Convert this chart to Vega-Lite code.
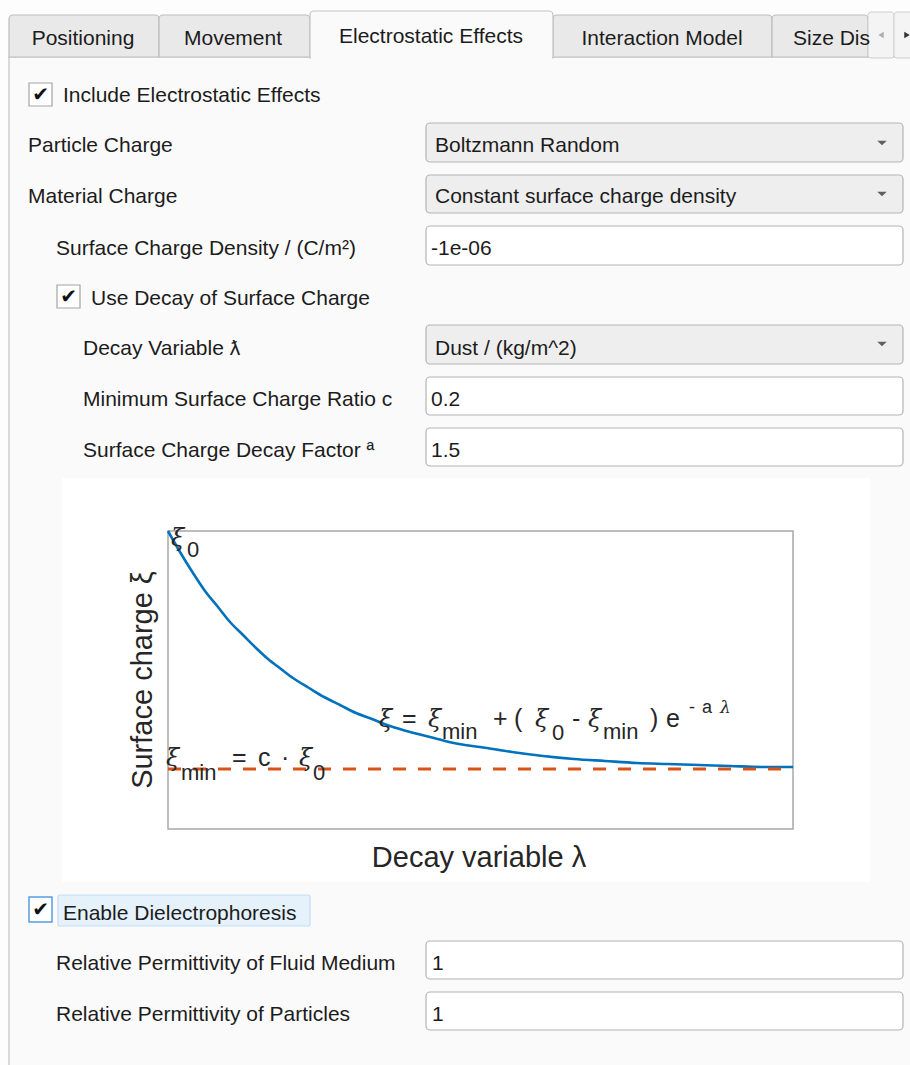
{
  "$schema": "https://vega.github.io/schema/vega-lite/v6.json",
  "width": 910,
  "height": 1065,
  "padding": 0,
  "autosize": {"type": "fit", "contains": "padding"},
  "background": "#fdfdfd",
  "view": {"stroke": null},
  "datasets": {
    "tabs": [{"x": 9, "y": 15, "x2": 159, "y2": 57}, {"x": 159, "y": 15, "x2": 310, "y2": 57}, {"x": 553, "y": 15, "x2": 772, "y2": 57}, {"x": 772, "y": 15, "x2": 868, "y2": 57}],
    "tabbtn": [{"x": 868, "y": 12, "x2": 894, "y2": 58}, {"x": 894, "y": 12, "x2": 915, "y2": 58}],
    "panel": [{"x": 9, "y": 57, "x2": 920, "y2": 1075}],
    "activetab": [{"x": 310, "y": 11, "x2": 553, "y2": 58}],
    "activecover": [{"x": 311, "y": 54, "x2": 552, "y2": 61}],
    "chartbg": [{"x": 62, "y": 478, "x2": 870, "y2": 882}],
    "combos": [{"x": 426, "y": 123, "x2": 903, "y2": 162}, {"x": 426, "y": 175, "x2": 903, "y2": 213}, {"x": 426, "y": 325, "x2": 903, "y2": 364}],
    "fields": [{"x": 426, "y": 226, "x2": 903, "y2": 265}, {"x": 426, "y": 377, "x2": 903, "y2": 415}, {"x": 426, "y": 428, "x2": 903, "y2": 466}, {"x": 426, "y": 941, "x2": 903, "y2": 979}, {"x": 426, "y": 992, "x2": 903, "y2": 1030}],
    "checks": [{"x": 29, "y": 83, "x2": 52, "y2": 106}, {"x": 57, "y": 285, "x2": 80, "y2": 308}],
    "focus": [{"x": 58, "y": 895, "x2": 310, "y2": 926}],
    "bluecheck": [{"x": 29, "y": 897, "x2": 52, "y2": 922}],
    "frame": [{"x": 168, "y": 531, "x2": 793, "y2": 829}],
    "minline": [{"x": 168, "y": 769}, {"x": 793, "y": 769}],
    "curve": [
      {"x": 168, "y": 531}, {"x": 180, "y": 552}, {"x": 193, "y": 573}, {"x": 205, "y": 591}, {"x": 218, "y": 607},
      {"x": 230, "y": 622}, {"x": 243, "y": 635}, {"x": 256, "y": 648}, {"x": 268, "y": 659}, {"x": 281, "y": 669},
      {"x": 293, "y": 678}, {"x": 309, "y": 688}, {"x": 324, "y": 697}, {"x": 340, "y": 705}, {"x": 356, "y": 713},
      {"x": 372, "y": 719}, {"x": 387, "y": 725}, {"x": 403, "y": 730}, {"x": 418, "y": 734}, {"x": 434, "y": 738},
      {"x": 449, "y": 742}, {"x": 465, "y": 745}, {"x": 480, "y": 747}, {"x": 512, "y": 752}, {"x": 543, "y": 756},
      {"x": 574, "y": 759}, {"x": 605, "y": 761}, {"x": 637, "y": 763}, {"x": 668, "y": 764}, {"x": 699, "y": 765},
      {"x": 730, "y": 766}, {"x": 762, "y": 767}, {"x": 793, "y": 767}
    ],
    "uitext": [
      {"x": 63, "y": 102, "t": "Include Electrostatic Effects"},
      {"x": 28, "y": 152, "t": "Particle Charge"},
      {"x": 28, "y": 203, "t": "Material Charge"},
      {"x": 56, "y": 255, "t": "Surface Charge Density / (C/m²)"},
      {"x": 91, "y": 305, "t": "Use Decay of Surface Charge"},
      {"x": 83, "y": 355, "t": "Decay Variable ƛ"},
      {"x": 83, "y": 406, "t": "Minimum Surface Charge Ratio c"},
      {"x": 83, "y": 457, "t": "Surface Charge Decay Factor ª"},
      {"x": 435, "y": 152, "t": "Boltzmann Random"},
      {"x": 435, "y": 203, "t": "Constant surface charge density"},
      {"x": 431, "y": 255, "t": "-1e-06"},
      {"x": 435, "y": 355, "t": "Dust / (kg/m^2)"},
      {"x": 431, "y": 406, "t": "0.2"},
      {"x": 431, "y": 457, "t": "1.5"},
      {"x": 63, "y": 920, "t": "Enable Dielectrophoresis"},
      {"x": 56, "y": 970, "t": "Relative Permittivity of Fluid Medium"},
      {"x": 56, "y": 1021, "t": "Relative Permittivity of Particles"},
      {"x": 432, "y": 970, "t": "1"},
      {"x": 432, "y": 1021, "t": "1"},
      {"x": 793, "y": 45, "t": "Size Dis"}
    ],
    "tabtext": [
      {"x": 83, "y": 45, "t": "Positioning"},
      {"x": 233, "y": 45, "t": "Movement"},
      {"x": 431, "y": 43, "t": "Electrostatic Effects"},
      {"x": 662, "y": 45, "t": "Interaction Model"}
    ],
    "checkmarks": [{"x": 40.5, "y": 95, "t": "✔"}, {"x": 68.5, "y": 297, "t": "✔"}, {"x": 40.5, "y": 910, "t": "✔"}],
    "arrows": [{"x": 882, "y": 143}, {"x": 882, "y": 194}, {"x": 882, "y": 344}],
    "tabarrowl": [{"x": 881, "y": 35}],
    "tabarrowr": [{"x": 907, "y": 35}],
    "greek": [
      {"x": 171, "y": 546, "t": "ξ"},
      {"x": 166, "y": 766, "t": "ξ"}, {"x": 299, "y": 766, "t": "ξ"},
      {"x": 379, "y": 727, "t": "ξ"}, {"x": 428, "y": 727, "t": "ξ"}, {"x": 535, "y": 727, "t": "ξ"}, {"x": 588, "y": 727, "t": "ξ"}
    ],
    "math": [
      {"x": 232, "y": 766, "t": "="}, {"x": 258, "y": 766, "t": "c"}, {"x": 281, "y": 766, "t": "·"},
      {"x": 402, "y": 727, "t": "="}, {"x": 493, "y": 727, "t": "+"},
      {"x": 514, "y": 727, "t": "("}, {"x": 572, "y": 727, "t": "-"},
      {"x": 650, "y": 727, "t": ")"}, {"x": 666, "y": 727, "t": "e"}
    ],
    "mathsub": [
      {"x": 187, "y": 557, "t": "0"},
      {"x": 181, "y": 780, "t": "min"}, {"x": 313, "y": 780, "t": "0"},
      {"x": 442, "y": 739, "t": "min"}, {"x": 552, "y": 740, "t": "0"}, {"x": 603, "y": 739, "t": "min"}
    ],
    "mathsup": [{"x": 689, "y": 713, "t": "-"}, {"x": 702, "y": 713, "t": "a"}],
    "supgreek": [{"x": 720, "y": 713, "t": "λ"}],
    "xtitle": [{"x": 479, "y": 867, "t": "Decay variable λ"}],
    "ytitle": [{"x": 152, "y": 680, "t": "Surface charge ξ"}]
  },
  "encoding": {
    "x": {"field": "x", "type": "quantitative", "scale": {"domain": [0, 910], "nice": false, "zero": false}, "axis": null},
    "y": {"field": "y", "type": "quantitative", "scale": {"domain": [0, 1065], "nice": false, "zero": false, "reverse": true}, "axis": null}
  },
  "layer": [
    {"data": {"name": "panel"}, "mark": {"type": "rect", "fill": "#fafafa", "stroke": "#c4c4c4", "strokeWidth": 1.2, "clip": true}, "encoding": {"x2": {"field": "x2"}, "y2": {"field": "y2"}}},
    {"data": {"name": "tabs"}, "mark": {"type": "rect", "fill": "#e9e9e9", "stroke": "#bdbdbd", "strokeWidth": 1.2, "cornerRadiusTopLeft": 4, "cornerRadiusTopRight": 4}, "encoding": {"x2": {"field": "x2"}, "y2": {"field": "y2"}}},
    {"data": {"name": "tabbtn"}, "mark": {"type": "rect", "fill": "#f4f4f4", "stroke": "#cfcfcf", "strokeWidth": 1, "cornerRadius": 3, "clip": true}, "encoding": {"x2": {"field": "x2"}, "y2": {"field": "y2"}}},
    {"data": {"name": "tabarrowl"}, "mark": {"type": "point", "shape": "triangle-left", "filled": true, "color": "#b0b0b0", "size": 40, "opacity": 1}},
    {"data": {"name": "tabarrowr"}, "mark": {"type": "point", "shape": "triangle-right", "filled": true, "color": "#333333", "size": 40, "opacity": 1}},
    {"data": {"name": "activetab"}, "mark": {"type": "rect", "fill": "#fafafa", "stroke": "#c4c4c4", "strokeWidth": 1.2, "cornerRadiusTopLeft": 4, "cornerRadiusTopRight": 4}, "encoding": {"x2": {"field": "x2"}, "y2": {"field": "y2"}}},
    {"data": {"name": "activecover"}, "mark": {"type": "rect", "fill": "#fafafa"}, "encoding": {"x2": {"field": "x2"}, "y2": {"field": "y2"}}},
    {"data": {"name": "chartbg"}, "mark": {"type": "rect", "fill": "#ffffff"}, "encoding": {"x2": {"field": "x2"}, "y2": {"field": "y2"}}},
    {"data": {"name": "combos"}, "mark": {"type": "rect", "fill": "#eeeeee", "stroke": "#b4b4b4", "strokeWidth": 1.2, "cornerRadius": 4}, "encoding": {"x2": {"field": "x2"}, "y2": {"field": "y2"}}},
    {"data": {"name": "fields"}, "mark": {"type": "rect", "fill": "#ffffff", "stroke": "#b4b4b4", "strokeWidth": 1.2, "cornerRadius": 4}, "encoding": {"x2": {"field": "x2"}, "y2": {"field": "y2"}}},
    {"data": {"name": "checks"}, "mark": {"type": "rect", "fill": "#ffffff", "stroke": "#a4a4a4", "strokeWidth": 1.2}, "encoding": {"x2": {"field": "x2"}, "y2": {"field": "y2"}}},
    {"data": {"name": "focus"}, "mark": {"type": "rect", "fill": "#e5f1fb", "stroke": "#c6ddf3", "strokeWidth": 1.2, "cornerRadius": 2}, "encoding": {"x2": {"field": "x2"}, "y2": {"field": "y2"}}},
    {"data": {"name": "bluecheck"}, "mark": {"type": "rect", "fill": "#ffffff", "stroke": "#5a9de0", "strokeWidth": 1.5}, "encoding": {"x2": {"field": "x2"}, "y2": {"field": "y2"}}},
    {"data": {"name": "arrows"}, "mark": {"type": "point", "shape": "M-1,-0.5L1,-0.5L0,0.5Z", "filled": true, "color": "#606060", "size": 90, "opacity": 1}},
    {"data": {"name": "frame"}, "mark": {"type": "rect", "fill": null, "stroke": "#a8a8a8", "strokeWidth": 1.5}, "encoding": {"x2": {"field": "x2"}, "y2": {"field": "y2"}}},
    {"data": {"name": "curve"}, "mark": {"type": "line", "color": "#0072bd", "strokeWidth": 2.6, "interpolate": "monotone"}, "encoding": {}},
    {"data": {"name": "minline"}, "mark": {"type": "line", "color": "#d95319", "strokeWidth": 3, "strokeDash": [13, 12]}, "encoding": {}},
    {"data": {"name": "uitext"}, "mark": {"type": "text", "align": "left", "baseline": "alphabetic", "font": "Liberation Sans", "fontSize": 21, "color": "#1c1c1c"}, "encoding": {"text": {"field": "t"}}},
    {"data": {"name": "tabtext"}, "mark": {"type": "text", "align": "center", "baseline": "alphabetic", "font": "Liberation Sans", "fontSize": 21, "color": "#1c1c1c"}, "encoding": {"text": {"field": "t"}}},
    {"data": {"name": "checkmarks"}, "mark": {"type": "text", "align": "center", "baseline": "middle", "font": "DejaVu Sans", "fontSize": 20, "color": "#111111"}, "encoding": {"text": {"field": "t"}}},
    {"data": {"name": "greek"}, "mark": {"type": "text", "align": "left", "baseline": "alphabetic", "font": "DejaVu Serif", "fontStyle": "italic", "fontSize": 24, "color": "#262626"}, "encoding": {"text": {"field": "t"}}},
    {"data": {"name": "math"}, "mark": {"type": "text", "align": "left", "baseline": "alphabetic", "font": "Liberation Sans", "fontSize": 25, "color": "#262626"}, "encoding": {"text": {"field": "t"}}},
    {"data": {"name": "mathsub"}, "mark": {"type": "text", "align": "left", "baseline": "alphabetic", "font": "Liberation Sans", "fontSize": 22, "color": "#262626"}, "encoding": {"text": {"field": "t"}}},
    {"data": {"name": "mathsup"}, "mark": {"type": "text", "align": "left", "baseline": "alphabetic", "font": "Liberation Sans", "fontSize": 18, "color": "#262626"}, "encoding": {"text": {"field": "t"}}},
    {"data": {"name": "supgreek"}, "mark": {"type": "text", "align": "left", "baseline": "alphabetic", "font": "DejaVu Serif", "fontStyle": "italic", "fontSize": 17, "color": "#262626"}, "encoding": {"text": {"field": "t"}}},
    {"data": {"name": "xtitle"}, "mark": {"type": "text", "align": "center", "baseline": "alphabetic", "font": "Liberation Sans", "fontSize": 29, "color": "#262626"}, "encoding": {"text": {"field": "t"}}},
    {"data": {"name": "ytitle"}, "mark": {"type": "text", "align": "center", "baseline": "alphabetic", "angle": 270, "font": "Liberation Sans", "fontSize": 29, "color": "#262626"}, "encoding": {"text": {"field": "t"}}}
  ]
}
